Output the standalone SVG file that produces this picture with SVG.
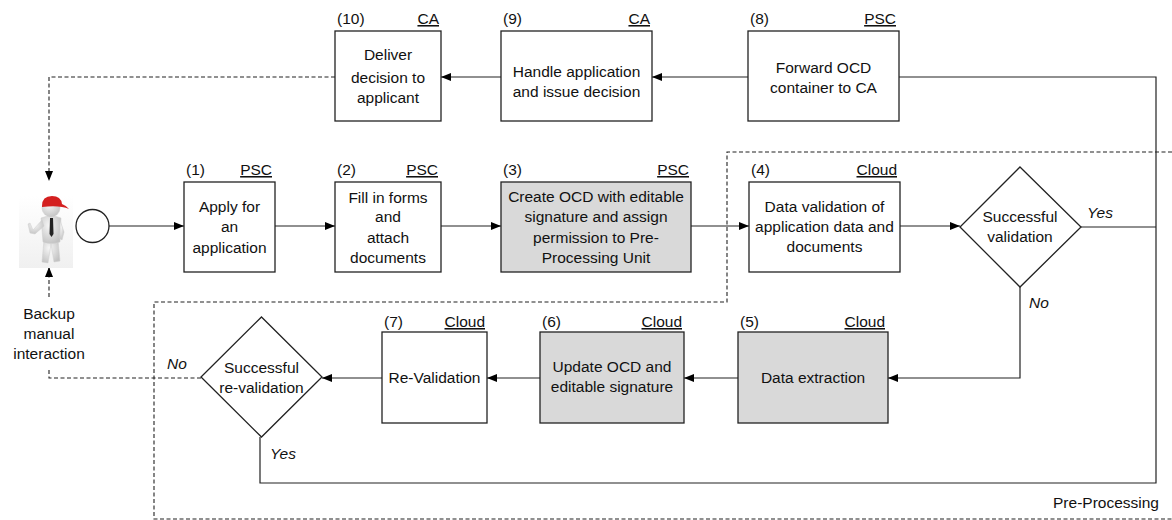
<svg xmlns="http://www.w3.org/2000/svg" width="1172" height="520" viewBox="0 0 1172 520">
  <defs>
    <style>
      text { font-family: "Liberation Sans", Arial, sans-serif; font-size: 15.5px; fill: #111; }
      .c { text-anchor: middle; }
      .r { text-anchor: end; text-decoration: underline; }
      .i { font-style: italic; }
      .box { fill: #fff; stroke: #222; stroke-width: 1.3; }
      .grey { fill: #d9d9d9; }
      .ln { fill: none; stroke: #222; stroke-width: 1.2; }
      .dash { fill: none; stroke: #222; stroke-width: 1.1; stroke-dasharray: 4 2.5; }
    </style>
    <marker id="arr" viewBox="0 0 10 8" refX="10" refY="4" markerWidth="10" markerHeight="8" markerUnits="userSpaceOnUse" orient="auto">
      <path d="M0,0 L10,4 L0,8 z" fill="#000"/>
    </marker>
    <radialGradient id="skin" cx="0.4" cy="0.35" r="0.7">
      <stop offset="0" stop-color="#f6f6f6"/>
      <stop offset="1" stop-color="#c2c2c2"/>
    </radialGradient>
    <linearGradient id="floor" x1="0" y1="0" x2="0" y2="1">
      <stop offset="0" stop-color="#ffffff"/>
      <stop offset="1" stop-color="#f0f0f0"/>
    </linearGradient>
  </defs>

  <!-- Pre-Processing region boundary -->
  <g id="preprocessing">
    <path class="dash" d="M1172,152 H727 V302 H154 V519 H1172"/>
    <text x="1159" y="508" text-anchor="end">Pre-Processing</text>
  </g>

  <!-- connectors -->
  <g id="connectors">
    <line class="ln" x1="109" y1="226" x2="184" y2="226" marker-end="url(#arr)"/>
    <line class="ln" x1="275" y1="226" x2="335" y2="226" marker-end="url(#arr)"/>
    <line class="ln" x1="441" y1="226" x2="501" y2="226" marker-end="url(#arr)"/>
    <line class="ln" x1="691" y1="226" x2="749" y2="226" marker-end="url(#arr)"/>
    <line class="ln" x1="900" y1="226" x2="960" y2="226" marker-end="url(#arr)"/>
    <!-- validation: yes -> forward to CA -->
    <line class="ln" x1="1081" y1="227" x2="1156" y2="227"/>
    <path class="ln" d="M899,77 H1156 V483 H260 V437"/>
    <line class="ln" x1="748" y1="77" x2="652" y2="77" marker-end="url(#arr)"/>
    <line class="ln" x1="501" y1="77" x2="441" y2="77" marker-end="url(#arr)"/>
    <!-- validation: no -> data extraction -->
    <path class="ln" d="M1020,287 V378 H888" marker-end="url(#arr)"/>
    <line class="ln" x1="738" y1="378" x2="684" y2="378" marker-end="url(#arr)"/>
    <line class="ln" x1="540" y1="378" x2="487" y2="378" marker-end="url(#arr)"/>
    <line class="ln" x1="382" y1="378" x2="322" y2="378" marker-end="url(#arr)"/>
    <!-- dashed paths to the applicant -->
    <path class="dash" d="M335,77 H49 V181" marker-end="url(#arr)"/>
    <path class="dash" d="M201,378 H49 V368"/>
    <path class="dash" d="M49,297 V267" marker-end="url(#arr)"/>
    <text class="i" x="1100" y="218" text-anchor="middle">Yes</text>
    <text class="i" x="1039" y="308" text-anchor="middle">No</text>
    <text class="i" x="177" y="369" text-anchor="middle">No</text>
    <text class="i" x="283" y="459" text-anchor="middle">Yes</text>
  </g>

  <!-- applicant -->
  <g id="applicant">
    <rect x="19" y="196" width="54" height="72" fill="url(#floor)"/>
    <!-- legs -->
    <path d="M44,240 L42,262 L48,263 L51,244 L54,262 L60,261 L58,240 z" fill="url(#skin)" stroke="#cfcfcf" stroke-width="0.5"/>
    <!-- torso -->
    <path d="M41,218 Q51,214 61,218 L60,242 Q51,245 43,242 z" fill="url(#skin)" stroke="#cfcfcf" stroke-width="0.5"/>
    <!-- arms -->
    <path d="M42,220 L33,230 L30,223 L28,224 L30,233 L35,234 L44,226 z" fill="url(#skin)" stroke="#cfcfcf" stroke-width="0.5"/>
    <path d="M60,220 L64,232 L62,240 L59,238 L60,230 z" fill="url(#skin)" stroke="#cfcfcf" stroke-width="0.5"/>
    <!-- tie -->
    <path d="M50,218 L53,218 L53.5,234 L51.5,237 L49.5,234 z" fill="#222"/>
    <!-- head -->
    <ellipse cx="51" cy="208" rx="9" ry="9" fill="url(#skin)" stroke="#cfcfcf" stroke-width="0.5"/>
    <!-- cap -->
    <path d="M42,206 Q42,196 52,196 Q61,196 62,204 Q67,206 69,209 Q60,205 42,207 z" fill="#d42020"/>
  </g>

  <!-- start -->
  <g id="start">
    <circle cx="92.5" cy="226" r="16.5" fill="#fff" stroke="#222" stroke-width="1.3"/>
  </g>

  <g id="n1">
    <rect class="box" x="184" y="182" width="91" height="90"/>
    <text x="186" y="175">(1)</text>
    <text class="r" x="272" y="175">PSC</text>
    <text class="c" x="229.5" y="212">Apply for</text>
    <text class="c" x="229.5" y="232">an</text>
    <text class="c" x="229.5" y="253">application</text>
  </g>

  <g id="n2">
    <rect class="box" x="335" y="182" width="106" height="90"/>
    <text x="337" y="175">(2)</text>
    <text class="r" x="438" y="175">PSC</text>
    <text class="c" x="388" y="203">Fill in forms</text>
    <text class="c" x="388" y="222">and</text>
    <text class="c" x="388" y="243">attach</text>
    <text class="c" x="388" y="263">documents</text>
  </g>

  <g id="n3">
    <rect class="box grey" x="501" y="182" width="190" height="90"/>
    <text x="503" y="175">(3)</text>
    <text class="r" x="689" y="175">PSC</text>
    <text class="c" x="596" y="202">Create OCD with editable</text>
    <text class="c" x="596" y="222">signature and assign</text>
    <text class="c" x="596" y="243">permission to Pre-</text>
    <text class="c" x="596" y="263">Processing Unit</text>
  </g>

  <g id="n4">
    <rect class="box" x="749" y="182" width="151" height="90"/>
    <text x="751" y="175">(4)</text>
    <text class="r" x="897" y="175">Cloud</text>
    <text class="c" x="824.5" y="212">Data validation of</text>
    <text class="c" x="824.5" y="232">application data and</text>
    <text class="c" x="824.5" y="252">documents</text>
  </g>

  <g id="d1">
    <polygon points="1020,167 1081,227 1020,287 960,227" fill="#fff" stroke="#222" stroke-width="1.3"/>
    <text class="c" x="1020" y="222">Successful</text>
    <text class="c" x="1020" y="242">validation</text>
  </g>

  <g id="n5">
    <rect class="box grey" x="738" y="332" width="150" height="91"/>
    <text x="740" y="327">(5)</text>
    <text class="r" x="885" y="327">Cloud</text>
    <text class="c" x="813" y="383">Data extraction</text>
  </g>

  <g id="n6">
    <rect class="box grey" x="540" y="332" width="144" height="91"/>
    <text x="542" y="327">(6)</text>
    <text class="r" x="682" y="327">Cloud</text>
    <text class="c" x="612" y="372">Update OCD and</text>
    <text class="c" x="612" y="392">editable signature</text>
  </g>

  <g id="n7">
    <rect class="box" x="382" y="332" width="105" height="91"/>
    <text x="384" y="327">(7)</text>
    <text class="r" x="485" y="327">Cloud</text>
    <text class="c" x="434.5" y="383">Re-Validation</text>
  </g>

  <g id="d2">
    <polygon points="261.5,317 322,377 261.5,437 201,377" fill="#fff" stroke="#222" stroke-width="1.3"/>
    <text class="c" x="261.5" y="373">Successful</text>
    <text class="c" x="261.5" y="393">re-validation</text>
  </g>

  <g id="backup">
    <text class="c" x="49" y="319">Backup</text>
    <text class="c" x="49" y="339">manual</text>
    <text class="c" x="49" y="359">interaction</text>
  </g>

  <g id="n8">
    <rect class="box" x="748" y="31" width="151" height="90"/>
    <text x="750" y="24">(8)</text>
    <text class="r" x="896" y="24">PSC</text>
    <text class="c" x="823.5" y="73">Forward OCD</text>
    <text class="c" x="823.5" y="93">container to CA</text>
  </g>

  <g id="n9">
    <rect class="box" x="501" y="31" width="151" height="90"/>
    <text x="503" y="24">(9)</text>
    <text class="r" x="650" y="24">CA</text>
    <text class="c" x="576.5" y="77">Handle application</text>
    <text class="c" x="576.5" y="97">and issue decision</text>
  </g>

  <g id="n10">
    <rect class="box" x="335" y="31" width="106" height="90"/>
    <text x="337" y="24">(10)</text>
    <text class="r" x="439" y="24">CA</text>
    <text class="c" x="388" y="60">Deliver</text>
    <text class="c" x="388" y="83">decision to</text>
    <text class="c" x="388" y="103">applicant</text>
  </g>
</svg>
